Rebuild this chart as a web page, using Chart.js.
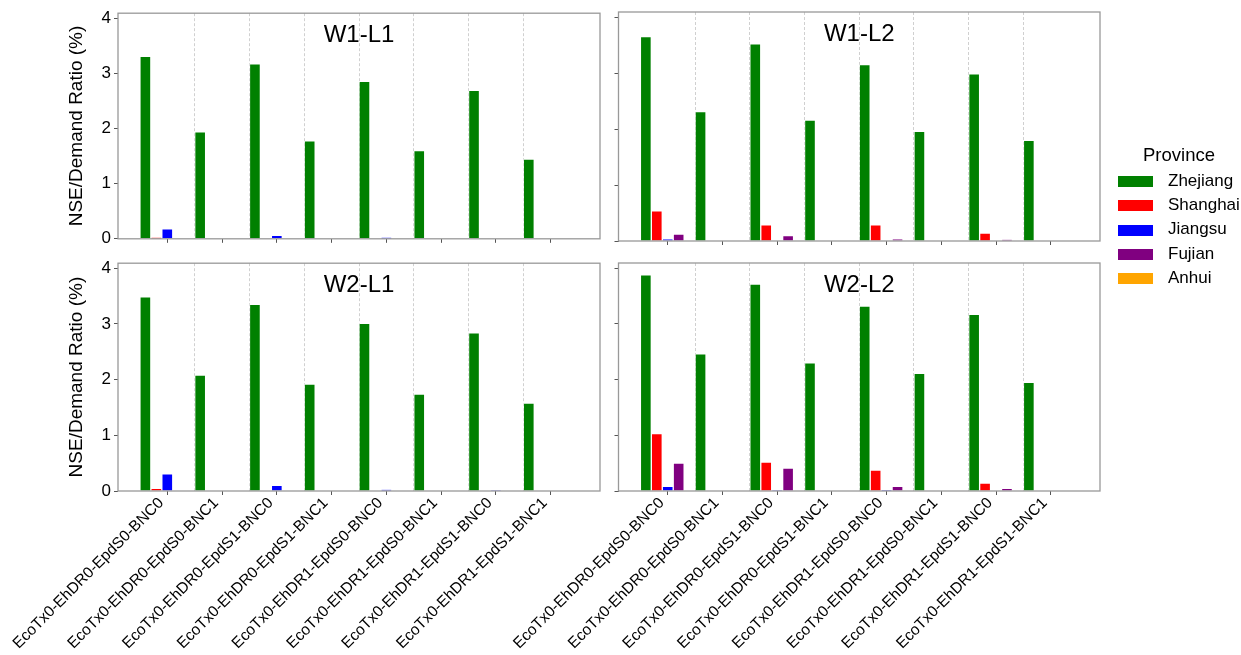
<!DOCTYPE html>
<html>
<head>
<meta charset="utf-8">
<title>NSE/Demand Ratio by Province</title>
<script src="https://cdn.jsdelivr.net/npm/chart.js@4.4.1/dist/chart.umd.min.js"></script>
<style>
  html, body { margin: 0; padding: 0; background: #fff; }
  #fig { position: relative; width: 1241px; height: 655px; overflow: hidden;
         font-family: "Liberation Sans", Arial, sans-serif; color: #000; }
  #fig canvas { position: absolute; }
  .lg-title { position: absolute; left: 1109px; width: 140px; text-align: center;
              font-size: 18.5px; line-height: 22px; white-space: nowrap; }
  .lg-swatch { position: absolute; left: 1118px; width: 35px; height: 11px; }
  .lg-text { position: absolute; left: 1168px; font-size: 17px; line-height: 20px; white-space: nowrap; }
</style>
</head>
<body>
<div id="fig">
  <canvas id="p1" width="610" height="252" style="left:0;top:0"></canvas>
  <canvas id="p2" width="610" height="252" style="left:500px;top:0"></canvas>
  <canvas id="p3" width="610" height="405" style="left:0;top:250px"></canvas>
  <canvas id="p4" width="610" height="405" style="left:500px;top:250px"></canvas>
  <div id="legend"></div>
</div>
<script>
// Scenario categories along the x axis
const categories = [
  'EcoTx0-EhDR0-EpdS0-BNC0', 'EcoTx0-EhDR0-EpdS0-BNC1',
  'EcoTx0-EhDR0-EpdS1-BNC0', 'EcoTx0-EhDR0-EpdS1-BNC1',
  'EcoTx0-EhDR1-EpdS0-BNC0', 'EcoTx0-EhDR1-EpdS0-BNC1',
  'EcoTx0-EhDR1-EpdS1-BNC0', 'EcoTx0-EhDR1-EpdS1-BNC1'
];
const provinces = ['Zhejiang', 'Shanghai', 'Jiangsu', 'Fujian', 'Anhui'];
const provinceColors = ['#008000', '#ff0000', '#0000ff', '#800080', '#ffa500'];
const panelTitles = ['W1-L1', 'W1-L2', 'W2-L1', 'W2-L2'];
const yTicks = [0, 1, 2, 3, 4];
const yAxisTitle = 'NSE/Demand Ratio (%)';
const legendTitle = 'Province';

// NSE/Demand ratio (%) per province, one array per panel and province
const w1l1Zhejiang = [3.31, 1.94, 3.17, 1.775, 2.855, 1.60, 2.69, 1.445];
const w1l1Shanghai = [0.02, 0, 0, 0, 0, 0, 0, 0];
const w1l1Jiangsu  = [0.18, 0, 0.065, 0, 0.02, 0, 0, 0];
const w1l1Fujian   = [0, 0, 0, 0, 0, 0, 0, 0];
const w1l1Anhui    = [0, 0, 0, 0, 0, 0, 0, 0];

const w1l2Zhejiang = [3.65, 2.31, 3.52, 2.16, 3.15, 1.96, 2.985, 1.80];
const w1l2Shanghai = [0.54, 0, 0.29, 0, 0.29, 0, 0.14, 0];
const w1l2Jiangsu  = [0.03, 0, 0, 0, 0, 0, 0, 0];
const w1l2Fujian   = [0.125, 0, 0.095, 0, 0.03, 0, 0.02, 0];
const w1l2Anhui    = [0, 0, 0, 0, 0, 0, 0, 0];

const w2l1Zhejiang = [3.485, 2.08, 3.35, 1.92, 3.01, 1.74, 2.84, 1.58];
const w2l1Shanghai = [0.05, 0, 0, 0, 0, 0, 0, 0];
const w2l1Jiangsu  = [0.31, 0, 0.10, 0, 0.02, 0, 0.008, 0];
const w2l1Fujian   = [0, 0, 0, 0, 0, 0, 0, 0];
const w2l1Anhui    = [0, 0, 0, 0, 0, 0, 0, 0];

const w2l2Zhejiang = [3.88, 2.46, 3.71, 2.30, 3.315, 2.11, 3.17, 1.95];
const w2l2Shanghai = [1.03, 0, 0.52, 0, 0.375, 0, 0.14, 0];
const w2l2Jiangsu  = [0.083, 0, 0.01, 0, 0.005, 0, 0, 0];
const w2l2Fujian   = [0.50, 0, 0.41, 0, 0.083, 0, 0.048, 0];
const w2l2Anhui    = [0, 0, 0, 0, 0, 0, 0, 0];

// Axis limits shared by all panels
const X_MIN = -0.9, X_MAX = categories.length - 0.1;
const Y_MAX = 4.09;

const FONT = '"Liberation Sans", Arial, sans-serif';
Chart.defaults.font.family = FONT;
Chart.defaults.color = '#000';

// Box around each plot area plus the panel title inside it
const panelFrame = {
  id: 'panelFrame',
  afterDraw(chart, args, opts) {
    const { ctx, chartArea: a } = chart;
    ctx.save();
    ctx.strokeStyle = '#999';
    ctx.lineWidth = 1.3;
    ctx.strokeRect(a.left, a.top, a.right - a.left, a.bottom - a.top);
    ctx.fillStyle = '#000';
    ctx.font = '24px ' + FONT;
    ctx.textAlign = 'center';
    ctx.textBaseline = 'alphabetic';
    ctx.fillText(opts.text, (a.left + a.right) / 2, a.top + 29);
    ctx.restore();
  }
};

function makePanel(id, title, series, o) {
  const datasets = provinces.map((name, k) => ({
    label: name,
    data: series[k].map((v, i) => ({ x: i, y: v })),
    backgroundColor: provinceColors[k],
    borderColor: 'rgba(255,255,255,0.4)',
    borderWidth: 1,
    categoryPercentage: 1,
    barPercentage: 1
  }));
  return new Chart(document.getElementById(id), {
    type: 'bar',
    data: { datasets },
    plugins: [panelFrame],
    options: {
      responsive: false,
      animation: false,
      events: [],
      layout: { padding: { top: o.padTop, right: 10, left: 0, bottom: 0 } },
      plugins: {
        legend: { display: false },
        tooltip: { enabled: false },
        panelFrame: { text: title }
      },
      scales: {
        x: {
          type: 'linear', position: 'bottom', min: X_MIN, max: X_MAX, bounds: 'data', offset: false,
          afterBuildTicks: s => { s.ticks = categories.map((_, i) => ({ value: i })); },
          afterFit: s => { s.height = o.xHeight; },
          grid: { offset: false, drawOnChartArea: false, drawTicks: true, tickLength: 4, color: '#555', tickWidth: 1 },
          border: { display: false },
          ticks: {
            display: o.showX, autoSkip: false, minRotation: 45, maxRotation: 45,
            font: { size: 15.5 }, color: '#000', padding: -1, labelOffset: -6,
            callback: (v, i) => categories[i]
          }
        },
        sep: {
          type: 'linear', position: 'bottom', min: X_MIN, max: X_MAX, bounds: 'data', offset: false,
          afterBuildTicks: s => { s.ticks = categories.slice(1).map((_, i) => ({ value: i + 0.5 })); },
          afterFit: s => { s.height = 0; },
          grid: { offset: false, drawOnChartArea: true, drawTicks: false, color: '#d0d0d0', lineWidth: 1 },
          border: { display: false, dash: [3, 2] },
          ticks: { display: false }
        },
        y: {
          type: 'linear', position: 'left', min: 0, max: Y_MAX, bounds: 'data',
          afterBuildTicks: s => { s.ticks = yTicks.map(v => ({ value: v })); },
          afterFit: s => { s.width = o.yWidth; },
          grid: { drawOnChartArea: false, drawTicks: true, tickLength: 4, color: '#555', tickWidth: 1 },
          border: { display: false },
          ticks: { display: o.showY, font: { size: 17 }, color: '#000', padding: 3, callback: v => String(v) },
          title: { display: o.showY, text: yAxisTitle, font: { size: 19 }, color: '#000', padding: { top: 65, bottom: 0 } }
        }
      }
    }
  });
}

makePanel('p1', panelTitles[0],
  [w1l1Zhejiang, w1l1Shanghai, w1l1Jiangsu, w1l1Fujian, w1l1Anhui],
  { padTop: 12, xHeight: 11, yWidth: 118, showX: false, showY: true });
makePanel('p2', panelTitles[1],
  [w1l2Zhejiang, w1l2Shanghai, w1l2Jiangsu, w1l2Fujian, w1l2Anhui],
  { padTop: 12, xHeight: 11, yWidth: 118.5, showX: false, showY: false });
makePanel('p3', panelTitles[2],
  [w2l1Zhejiang, w2l1Shanghai, w2l1Jiangsu, w2l1Fujian, w2l1Anhui],
  { padTop: 13, xHeight: 164, yWidth: 118, showX: true, showY: true });
makePanel('p4', panelTitles[3],
  [w2l2Zhejiang, w2l2Shanghai, w2l2Jiangsu, w2l2Fujian, w2l2Anhui],
  { padTop: 13, xHeight: 164, yWidth: 118.5, showX: true, showY: false });

// Province legend to the right of the panels
(function buildLegend() {
  const root = document.getElementById('legend');
  const t = document.createElement('div');
  t.className = 'lg-title';
  t.style.top = '144px';
  t.textContent = legendTitle;
  root.appendChild(t);
  provinces.forEach((name, k) => {
    const top = 176 + k * 24.25;
    const sw = document.createElement('div');
    sw.className = 'lg-swatch';
    sw.style.top = top + 'px';
    sw.style.background = provinceColors[k];
    root.appendChild(sw);
    const tx = document.createElement('div');
    tx.className = 'lg-text';
    tx.style.top = (top - 5.2) + 'px';
    tx.textContent = name;
    root.appendChild(tx);
  });
})();
</script>
</body>
</html>
